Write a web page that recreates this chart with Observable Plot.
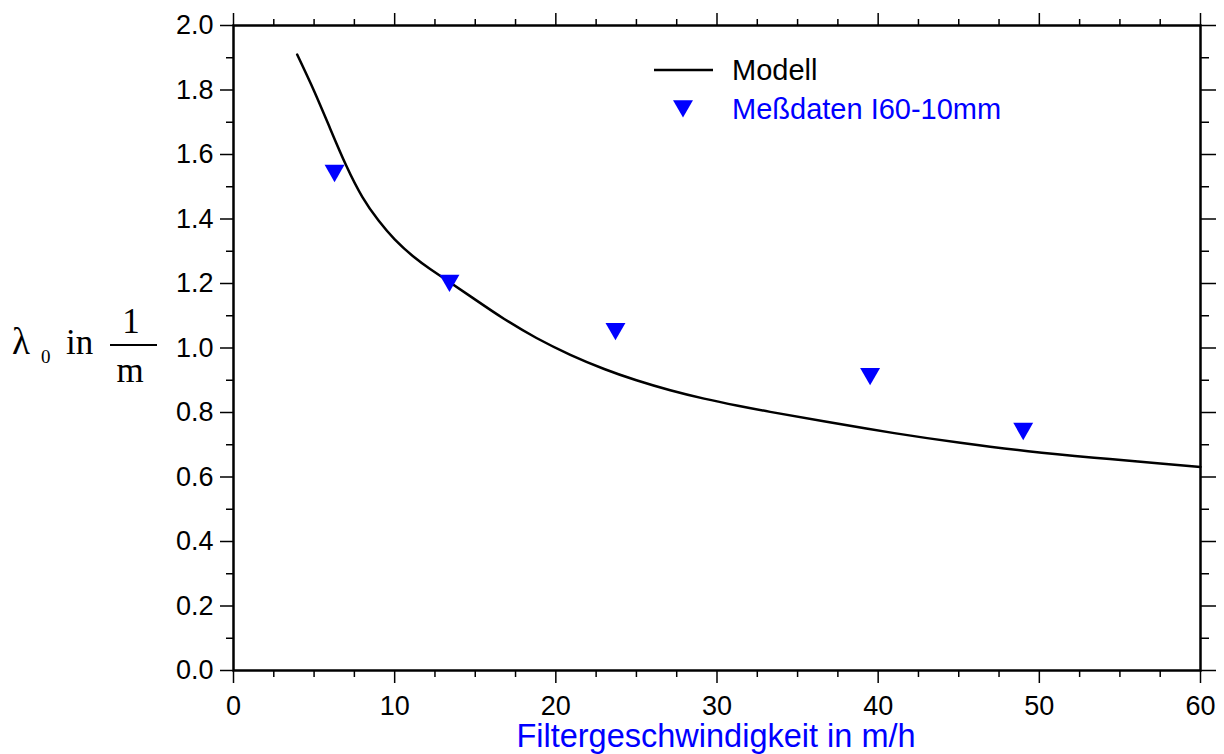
<!DOCTYPE html>
<html>
<head>
<meta charset="utf-8">
<script src="https://cdn.jsdelivr.net/npm/d3@7"></script>
<script src="https://cdn.jsdelivr.net/npm/@observablehq/plot@0.6"></script>
<style>
  html, body { margin: 0; padding: 0; background: #fff; }
  #chart svg { display: block; }
</style>
</head>
<body>
<div id="chart"></div>
<script>
// Measured data (Meßdaten I60-10mm)
const measX = [6.27, 13.4, 23.7, 39.5, 49.0];
const measY = [1.55, 1.209, 1.06, 0.92, 0.75];

// Model curve
const modelX = [3.95, 5.0, 6.0, 7.0, 8.0, 9.0, 10.0, 11.2, 12.2, 13.3, 15.0, 16.8, 18.8, 20.9, 23.0, 25.0, 27.1, 29.2, 31.3, 33.3, 36.8, 41.0, 45.1, 49.3, 53.4, 57.5, 60.0];
const modelY = [1.91, 1.797, 1.680, 1.565, 1.468, 1.395, 1.337, 1.282, 1.245, 1.208, 1.150, 1.090, 1.031, 0.979, 0.935, 0.900, 0.869, 0.843, 0.821, 0.802, 0.771, 0.736, 0.706, 0.680, 0.660, 0.642, 0.631];

// Tick values
const xMajor = [0, 10, 20, 30, 40, 50, 60];
const xMinor = [2.5, 5, 7.5, 12.5, 15, 17.5, 22.5, 25, 27.5, 32.5, 35, 37.5, 42.5, 45, 47.5, 52.5, 55, 57.5];
const yMajor = [0, 0.2, 0.4, 0.6, 0.8, 1.0, 1.2, 1.4, 1.6, 1.8, 2.0];
const yMinor = [0.1, 0.3, 0.5, 0.7, 0.9, 1.1, 1.3, 1.5, 1.7, 1.9];

const xTitle = "Filtergeschwindigkeit in m/h";
const legendModel = "Modell";
const legendMeas = "Meßdaten I60-10mm";

const model = modelX.map((x, i) => ({x, y: modelY[i]}));
const meas = measX.map((x, i) => ({x, y: measY[i]}));

const blank = () => "";
const tickStroke = {stroke: "#000", strokeWidth: 1.5};

const plot = Plot.plot({
  width: 1224,
  height: 754,
  marginLeft: 233,
  marginRight: 24,
  marginTop: 25,
  marginBottom: 84,
  x: {domain: [0, 60]},
  y: {domain: [0, 2]},
  style: {fontFamily: "'Liberation Sans', Arial, sans-serif", fontSize: "27px", color: "#000", background: "#fff"},
  marks: [
    // bottom
    Plot.axisX(xMajor, {anchor: "bottom", tickSize: 13, tickPadding: 12, tickFormat: d => String(d), label: null, fontSize: 27, ...tickStroke}),
    Plot.axisX(xMinor, {anchor: "bottom", tickSize: 7, tickFormat: blank, label: null, ...tickStroke}),
    // top
    Plot.axisX(xMajor, {anchor: "top", tickSize: 13, tickFormat: blank, label: null, ...tickStroke}),
    Plot.axisX(xMinor, {anchor: "top", tickSize: 7, tickFormat: blank, label: null, ...tickStroke}),
    // left
    Plot.axisY(yMajor, {anchor: "left", tickSize: 13, tickPadding: 7, tickFormat: d3.format(".1f"), label: null, fontSize: 27, ...tickStroke}),
    Plot.axisY(yMinor, {anchor: "left", tickSize: 7, tickFormat: blank, label: null, ...tickStroke}),
    // right
    Plot.axisY(yMajor, {anchor: "right", tickSize: 15, tickFormat: blank, label: null, ...tickStroke}),
    Plot.axisY(yMinor, {anchor: "right", tickSize: 8, tickFormat: blank, label: null, ...tickStroke}),
    Plot.line(model, {x: "x", y: "y", curve: "natural", stroke: "#000", strokeWidth: 2.5}),
    Plot.dot(meas, {x: "x", y: "y", symbol: "triangle", rotate: 180, r: 7.4, fill: "#0000ff", stroke: "none"}),
    Plot.frame({stroke: "#000", strokeWidth: 2.5})
  ]
});

document.getElementById("chart").appendChild(plot);

const svg = d3.select(plot);

// x-axis title
svg.append("text")
  .attr("x", 716).attr("y", 747)
  .attr("text-anchor", "middle")
  .attr("font-family", "'Liberation Sans', Arial, sans-serif")
  .attr("font-size", 32.5)
  .attr("fill", "#0000ff")
  .text(xTitle);

// y-axis label: λ0 in 1/m
const serif = "'Liberation Serif', 'Times New Roman', serif";
const yl = svg.append("g").attr("font-family", serif).attr("fill", "#000").attr("text-anchor", "start");
yl.append("text").attr("x", 12).attr("y", 354).attr("font-size", 37).text("λ");
yl.append("text").attr("x", 41).attr("y", 363).attr("font-size", 19).text("0");
yl.append("text").attr("x", 66).attr("y", 354).attr("font-size", 35).text("in");
yl.append("line").attr("x1", 110).attr("x2", 157).attr("y1", 345).attr("y2", 345).attr("stroke", "#000").attr("stroke-width", 2);
yl.append("text").attr("x", 131).attr("y", 333).attr("text-anchor", "middle").attr("font-size", 35).text("1");
yl.append("text").attr("x", 130).attr("y", 382).attr("text-anchor", "middle").attr("font-size", 35).text("m");

// legend
const lg = svg.append("g").attr("font-family", "'Liberation Sans', Arial, sans-serif").attr("font-size", 29).attr("text-anchor", "start");
lg.append("line").attr("x1", 654).attr("x2", 713).attr("y1", 70).attr("y2", 70).attr("stroke", "#000").attr("stroke-width", 2.5);
lg.append("text").attr("x", 732).attr("y", 80).attr("fill", "#000").text(legendModel);
lg.append("path")
  .attr("transform", "translate(683,106) rotate(180)")
  .attr("d", d3.symbol(d3.symbolTriangle, Math.PI * 7.4 * 7.4)())
  .attr("fill", "#0000ff");
lg.append("text").attr("x", 732).attr("y", 119).attr("fill", "#0000ff").text(legendMeas);
</script>
</body>
</html>
